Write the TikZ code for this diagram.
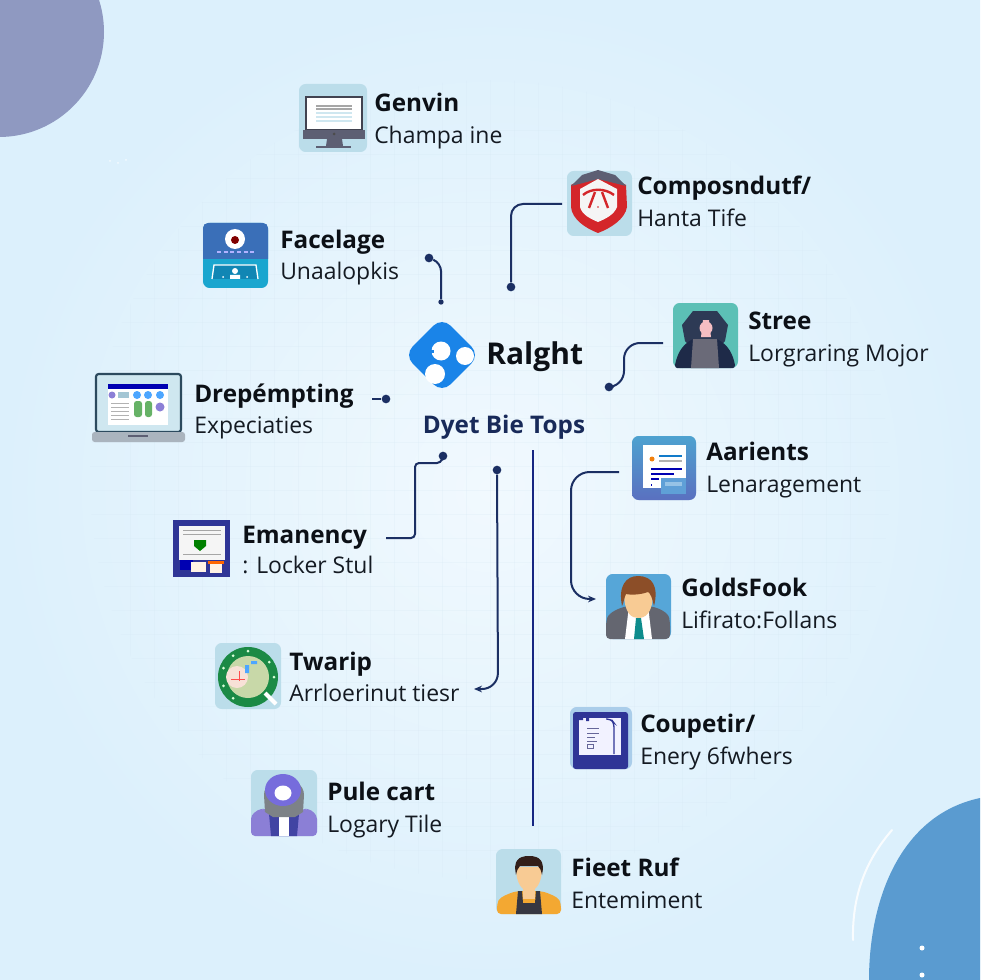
\documentclass[tikz,border=0pt]{standalone}
\usepackage{fontspec}
\setmainfont{Open Sans}
\usetikzlibrary{arrows.meta,shapes.geometric}
\definecolor{bgin}{HTML}{F1F9FE}
\definecolor{bgout}{HTML}{DCF0FC}
\definecolor{gridc}{HTML}{D4E6F3}
\definecolor{tilec}{HTML}{BBDDEA}
\definecolor{navy}{HTML}{1B2F63}
\definecolor{ink}{HTML}{0C1016}
\definecolor{subink}{HTML}{141A22}
\definecolor{cornerA}{HTML}{8F99C1}
\definecolor{cornerB}{HTML}{5A9BD0}
\definecolor{indigo}{HTML}{2F3596}
\definecolor{slate}{HTML}{5D5F73}
\definecolor{logoblue}{HTML}{1A84E8}
\definecolor{shieldred}{HTML}{D4262A}
\definecolor{skin}{HTML}{F8CB94}
\definecolor{violet}{HTML}{8B7FD6}
\definecolor{ringgreen}{HTML}{1B8A45}
\definecolor{faceblue}{HTML}{3A6FB8}
\definecolor{facecyan}{HTML}{1AA6CF}
\definecolor{facedeep}{HTML}{1186B4}
\definecolor{streeteal}{HTML}{5CC0B6}
\definecolor{hood}{HTML}{2D3A55}
\definecolor{hooddark}{HTML}{1E2A48}
\definecolor{hoodgrey}{HTML}{6A6A78}
\definecolor{pinkface}{HTML}{F5BEC3}
\definecolor{lapframe}{HTML}{2C4A5E}
\definecolor{lapbase}{HTML}{AAB4BE}
\definecolor{aartop}{HTML}{4EA2D0}
\definecolor{aarbot}{HTML}{5A70C0}
\definecolor{envA}{HTML}{5FA0D7}
\definecolor{envB}{HTML}{96C3E6}
\definecolor{goldtile}{HTML}{56A6D8}
\definecolor{suit}{HTML}{646670}
\definecolor{tie}{HTML}{0E8C8C}
\definecolor{hairA}{HTML}{8C4E28}
\definecolor{hairB}{HTML}{321E19}
\definecolor{mapgreen}{HTML}{C8D8A8}
\definecolor{mappink}{HTML}{F8E1D7}
\definecolor{couptile}{HTML}{AACDEA}
\definecolor{hoodgrey2}{HTML}{7D8287}
\definecolor{jacket}{HTML}{F3A832}
\definecolor{vest}{HTML}{373741}
\tikzset{
  x=0.75pt,y=-0.75pt,
  tile/.style={anchor=north west,inner sep=0pt,outer sep=0pt,rounded corners=5pt,minimum width=#1*0.75pt,minimum height=#1*0.75pt,fill=tilec},
  tile/.default=65,
  head/.style={anchor=base west,inner sep=0pt,font=\fontsize{18.2}{20}\selectfont\bfseries,text=ink},
  desc/.style={anchor=base west,inner sep=0pt,font=\fontsize{17.2}{20}\selectfont,text=subink},
  wire/.style={draw=navy,line width=1.5pt,rounded corners=9pt},
  arrowwire/.style={wire,-{Stealth[length=6pt,width=5pt]}},
  enddot/.style={circle,fill=navy,inner sep=0pt,minimum size=6.5pt},
}
\begin{document}
\begin{tikzpicture}
\useasboundingbox (0,0) rectangle (980,980);
% background
\shade[inner color=bgin,outer color=bgout] (0,0) rectangle (980,980);
\begin{scope}
\clip (490,480) circle[radius=400];
\foreach \g in {130,154,...,850}{
  \draw[gridc,line width=0.5pt,opacity=.22] (\g,80) -- (\g,880);
  \draw[gridc,line width=0.5pt,opacity=.22] (90,\g) -- (890,\g);
}
\end{scope}
% corners
\fill[cornerA] (-1,32) circle[radius=105];
\fill[cornerB] (869,980) .. controls (869,900) and (900,815) .. (980,798) -- (980,980) -- cycle;
\draw[white,line width=1.5pt,opacity=.85,line cap=round] (892,830) .. controls (866,860) and (852,895) .. (853,940);
\fill[white] (922,948) circle[radius=2.5] (922,975) circle[radius=2.5];
\fill[white,opacity=.7] (110,161) circle[radius=1] (118,163) circle[radius=1] (126,160) circle[radius=1];

% ---------- Genvin
\node[tile=68] (genvinicon) at (299,84) {};
\begin{scope}[shift={(299,84)}]
\draw[fill=white,draw=slate!70!black,line width=1pt] (7,13) rectangle (63,46);
\foreach \yy/\c in {22/gray,25/gray,29/tilec,33/tilec,37/tilec}{\draw[\c!70!white,line width=.8pt] (17,\yy) -- (53,\yy);}
\fill[slate] (4,46) rectangle (66,55);
\fill[slate] (28,55) -- (43,55) -- (44,62) -- (27,62) -- cycle;
\fill[slate] (17,62) rectangle (52,64);
\fill[black!70] (35,50) circle[radius=1.5];
\end{scope}
\node[head] (genvinhead) at (374,112) {Genvin};
\node[desc] (genvindesc) at (374,144) {Champa ine};

% ---------- Composndutf
\node[tile=65] (compicon) at (567,171) {};
\begin{scope}[shift={(567,171)}]
\fill[shieldred] (4,14) -- (31,0) -- (59,14) -- (60,36) .. controls (58,48) and (44,57) .. (31,62) .. controls (18,57) and (5,48) .. (4,36) -- cycle;
\fill[slate] (4,15) -- (15,4) -- (31,-1) -- (48,4) -- (59,15) -- (47,12) -- (31,8) -- (16,12) -- cycle;
\fill[white!92!gray] (13,18) -- (31,8) -- (50,18) -- (50,36) .. controls (47,44) and (38,48) .. (31,51) .. controls (24,48) and (15,44) .. (13,36) -- cycle;
\draw[shieldred,line width=1.8pt] (16,24) .. controls (24,17) and (38,17) .. (47,24);
\draw[shieldred,line width=1.8pt] (22,37) -- (28,21);
\draw[shieldred,line width=1.8pt] (41,37) -- (35,21);
\fill[shieldred] (31,36) circle[radius=.8];
\end{scope}
\node[head] (comphead) at (637,195) {Composndutf/};
\node[desc] (compdesc) at (637,227) {Hanta Tife};

% ---------- Facelage
\node[tile=65,fill=facecyan] (faceicon) at (203,223) {};
\begin{scope}[shift={(203,223)}]
\fill[faceblue] (0,36) -- (0,5) .. controls (0,2) and (2,0) .. (5,0) -- (60,0) .. controls (63,0) and (65,2) .. (65,5) -- (65,36) -- cycle;
\fill[white] (32,16) circle[radius=10];
\fill[red!50!black] (32,17) circle[radius=4];
\draw[white!70!blue,line width=.8pt,dash pattern=on 3pt off 2pt] (14,29) -- (52,29);
\fill[facedeep] (11,42) -- (53,42) -- (55,56) -- (9,56) -- cycle;
\draw[white,line width=1pt] (9,56) -- (11,42) -- (53,42) -- (55,56);
\fill[white] (32,48) circle[radius=3] (27,52) rectangle (37,56);
\fill[white] (20,54) circle[radius=1] (44,54) circle[radius=1];
\end{scope}
\node[head] (facehead) at (280,249) {Facelage};
\node[desc] (facedesc) at (280,280) {Unaalopkis};

% ---------- logo
\node[diamond,aspect=1,fill=logoblue,inner sep=0pt,minimum size=76*0.75pt,rounded corners=9pt] (logo) at (442,355) {};
\fill[white] (441,351) circle[radius=9.5] (465,356) circle[radius=9] (435,374) circle[radius=10];
\fill[logoblue] (428,350) rectangle (434,353);
\node[anchor=base west,inner sep=0pt,font=\fontsize{22.5}{24}\selectfont\bfseries,text=ink] (ralght) at (486,364) {Ralght};
\node[anchor=base,inner sep=0pt,font=\fontsize{18.2}{22}\selectfont\bfseries,text=navy!90!black] (dyet) at (504,433) {Dyet Bie Tops};

% ---------- Stree
\node[tile=65,fill=streeteal] (streeicon) at (673,303) {};
\begin{scope}[shift={(673,303)}]
\fill[hood] (20,8) -- (44,8) -- (55,22) -- (52,38) -- (46,45) -- (18,45) -- (12,38) -- (9,22) -- cycle;
\fill[hooddark] (20,36) -- (44,36) .. controls (56,42) and (60,52) .. (62,62) .. controls (62,64) and (61,65) .. (60,65) -- (4,65) .. controls (3,65) and (2,64) .. (2,62) .. controls (4,52) and (8,42) .. (20,36) -- cycle;
\fill[hoodgrey] (20,36) -- (44,36) -- (46,65) -- (18,65) -- cycle;
\fill[pinkface] (33,25) circle[radius=6.5];
\fill[pinkface] (30,17) -- (36,17) -- (38,34) -- (28,34) -- cycle;
\end{scope}
\node[head] (streehead) at (748,329) {Stree};
\node[desc] (streedesc) at (748,361) {Lorgraring Mojor};

% ---------- Drepempting
\draw[fill=tilec!70!white,draw=lapframe,line width=1.6pt,rounded corners=2pt] (96,374) rectangle (181,432);
\node[anchor=north west,inner sep=0pt,outer sep=0pt,rounded corners=2pt,fill=lapbase,minimum width=93*0.75pt,minimum height=10*0.75pt] (drepicon) at (92,432) {};
\fill[slate] (128,435) rectangle (148,437);
\fill[white] (108,389) rectangle (168,425);
\fill[blue!70!black] (108,384) rectangle (168,389);
\fill[violet] (112,395) circle[radius=3.5] (160,407) circle[radius=4.5];
\fill[cyan!40!gray!60] (118,392) rectangle (129,398);
\fill[blue!50!cyan!70] (137,395) circle[radius=4] (148,395) circle[radius=4] (160,395) circle[radius=4];
\fill[green!50!black!60,rounded corners=2pt] (134,401) rectangle (142,417) (145,401) rectangle (152,417);
\foreach \yy in {403,407,411,415,419}{\draw[gray!60,line width=.5pt] (111,\yy) -- (129,\yy);}
\node[head] (drephead) at (194,402) {Drepémpting};
\node[desc] (drepdesc) at (194,433) {Expeciaties};

% ---------- Aarients
\node[tile=64,shade,top color=aartop,bottom color=aarbot] (aaricon) at (632,436) {};
\begin{scope}[shift={(632,436)}]
\fill[white] (11,9) rectangle (54,52);
\fill[orange!80!brown] (20,23) circle[radius=2.5];
\draw[cyan!60!blue,line width=1pt] (27,20) -- (50,20);
\draw[gray!60,line width=1pt] (27,25) -- (50,25);
\draw[blue!70!black,line width=1.2pt] (19,33) -- (50,33);
\draw[blue!70!black,line width=1.2pt] (19,38) -- (42,38) (19,43) -- (27,43) (19,49) -- (20,49);
\fill[envA] (29,42) rectangle (54,58);
\fill[envB] (33,46) rectangle (50,50);
\end{scope}
\node[head] (aarhead) at (706,460) {Aarients};
\node[desc] (aardesc) at (706,492) {Lenaragement};

% ---------- Emanency
\node[tile=57,fill=indigo,rounded corners=0pt] (emanicon) at (173,520) {};
\begin{scope}[shift={(173,520)}]
\fill[white!92!gray] (6,6) rectangle (52,40);
\foreach \yy in {10,14,34}{\draw[gray!70,line width=.5pt] (10,\yy) -- (48,\yy);}
\fill[green!50!black] (21,20) -- (33,20) -- (33,26) -- (27,31) -- (21,26) -- cycle;
\fill[blue!70!black] (7,40) rectangle (20,50);
\fill[white!90!orange] (18,42) rectangle (33,52);
\fill[orange!80!red] (35,41) rectangle (51,44);
\fill[white!90!orange] (37,44) rectangle (49,53);
\end{scope}
\node[head] (emanhead) at (242,543) {Emanency};
\node[desc] (emandesc) at (242,573) {: Locker Stul};

% ---------- GoldsFook
\node[tile=65,fill=goldtile] (goldicon) at (606,574) {};
\begin{scope}[shift={(606,574)}]
\fill[suit,rounded corners=3pt] (0,65) -- (0,48) .. controls (3,38) and (14,34) .. (22,32) -- (43,32) .. controls (52,34) and (62,38) .. (64,48) -- (64,65) -- cycle;
\fill[white] (23,32) -- (42,32) -- (46,65) -- (19,65) -- cycle;
\fill[tie] (30,44) -- (35,44) -- (38,65) -- (28,65) -- cycle;
\fill[skin] (18,18) .. controls (18,40) and (26,44) .. (32,44) .. controls (39,44) and (47,40) .. (47,18) -- cycle;
\fill[hairA] (16,32) .. controls (12,12) and (20,2) .. (32,2) .. controls (46,2) and (53,12) .. (48,32) .. controls (46,24) and (45,20) .. (42,18) .. controls (34,21) and (24,21) .. (20,20) .. controls (18,24) and (18,28) .. (16,32) -- cycle;
\end{scope}
\node[head] (goldhead) at (681,596) {GoldsFook};
\node[desc] (golddesc) at (681,628) {Lifirato:Follans};

% ---------- Twarip
\node[tile=66] (twaricon) at (215,643) {};
\begin{scope}[shift={(215,643)}]
\fill[ringgreen] (33,34) circle[radius=30];
\fill[mapgreen] (33,34) circle[radius=21];
\fill[mappink] (22,34) circle[radius=11];
\draw[red!70,line width=.7pt] (16,36) -- (30,36) (24,28) -- (24,38);
\fill[blue!50!cyan!70] (30,22) rectangle (34,30) (36,18) rectangle (42,21);
\draw[white,line width=3pt] (50,50) -- (61,61);
\foreach \a in {90,125,160,200,235,35,0}{\fill[white!85!green] ({33+26*cos(\a)},{34-26*sin(\a)}) circle[radius=1.5];}
\end{scope}
\node[head] (twarhead) at (289,670) {Twarip};
\node[desc] (twardesc) at (289,701) {Arrloerinut tiesr};

% ---------- Coupetir
\node[tile=62,fill=couptile] (coupicon) at (570,707) {};
\begin{scope}[shift={(570,707)}]
\fill[indigo,rounded corners=2pt] (3,5) rectangle (58,62);
\fill[white!95!blue] (9,11) rectangle (51,48);
\draw[indigo,line width=1pt,rounded corners=3pt] (36,12) -- (41,12) -- (44,16) -- (44,47);
\foreach \yy/\xa in {21/29,26/29,30/25,34/27}{\draw[gray!80!blue,line width=.6pt] (17,\yy) -- (\xa,\yy);}
\draw[gray!80!blue,line width=.6pt] (17,37) rectangle (23,41);
\fill[indigo] (9,11) rectangle (13,13) (16,11) rectangle (19,14);
\end{scope}
\node[head] (couphead) at (640,732) {Coupetir/};
\node[desc] (coupdesc) at (640,764) {Enery 6fwhers};

% ---------- Pule cart
\node[tile=66] (puleicon) at (251,770) {};
\begin{scope}[shift={(251,770)}]
\fill[violet,rounded corners=3pt] (0,66) -- (0,45) -- (10,38) -- (15,40) -- (52,40) -- (57,38) -- (66,45) -- (66,66) -- cycle;
\fill[indigo!80!violet] (18,44) -- (48,44) -- (46,66) -- (20,66) -- cycle;
\fill[white] (28,44) rectangle (38,66);
\fill[hoodgrey2] (13,25) .. controls (13,4) and (53,4) .. (53,25) -- (52,42) -- (44,47) -- (22,47) -- (14,42) -- cycle;
\fill[violet!85!blue] (32,20) ellipse[x radius=18,y radius=16];
\fill[white] (32,23) ellipse[x radius=8.5,y radius=7.5];
\end{scope}
\node[head] (pulehead) at (327,800) {Pule cart};
\node[desc] (puledesc) at (327,832) {Logary Tile};

% ---------- Fieet Ruf
\node[tile=65] (fieeticon) at (496,849) {};
\begin{scope}[shift={(496,849)}]
\fill[jacket,rounded corners=3pt] (1,65) -- (1,55) .. controls (4,48) and (14,44) .. (22,42) -- (44,42) .. controls (52,44) and (62,48) .. (65,55) -- (65,65) -- cycle;
\fill[vest] (22,42) -- (26,42) -- (27,54) -- (39,54) -- (40,42) -- (44,42) -- (46,65) -- (20,65) -- cycle;
\fill[skin] (27,36) rectangle (39,50);
\fill[skin] (20,18) .. controls (20,36) and (27,42) .. (33,42) .. controls (39,42) and (46,36) .. (46,18) -- cycle;
\fill[hairB] (20,26) .. controls (17,12) and (22,7) .. (33,7) .. controls (44,7) and (49,12) .. (46,26) .. controls (45,21) and (44,19) .. (42,17) -- (24,17) .. controls (22,19) and (21,21) .. (20,26) -- cycle;
\end{scope}
\node[head] (fieethead) at (571,876) {Fieet Ruf};
\node[desc] (fieetdesc) at (571,908) {Entemiment};

% ---------- connector ends
\node[enddot] (d1) at (429,258) {};
\node[enddot,minimum size=4pt] (d2) at (441,302) {};
\node[enddot] (d3) at (511,287) {};
\node[enddot] (d4) at (609,387) {};
\node[enddot] (d5) at (386,399) {};
\node[enddot] (d6) at (443,456) {};
\node[enddot] (d7) at (497,470) {};
\coordinate (c1) at (562,204);
\coordinate (c2) at (663,343);
\coordinate (c3) at (372,399);
\coordinate (c4) at (386,538);
\coordinate (c5) at (474,689);
\coordinate (c6) at (619,472);
\coordinate (c7) at (596,599);
\coordinate (c8) at (533,450);
\coordinate (c9) at (533,826);

\draw[wire,rounded corners=6pt] (d1) -- (441,263) -- (d2);
\draw[wire] (c1) -- (511,204) -- (d3);
\draw[wire,rounded corners=12pt] (c2) -- (624,343) -- (624,387) -- (d4);
\draw[wire] (c3) -- (d5);
\draw[wire,rounded corners=3pt] (c4) -- (415,538) -- (415,463) -- (441,463) -- (d6);
\draw[arrowwire,rounded corners=12pt] (d7) -- (498,689) -- (c5);
\draw[arrowwire,rounded corners=14pt] (c6) -- (571,472) -- (571,599) -- (c7);
\draw[draw=navy!80!blue,line width=1.7pt] (c8) -- (c9);
\end{tikzpicture}
\end{document}
